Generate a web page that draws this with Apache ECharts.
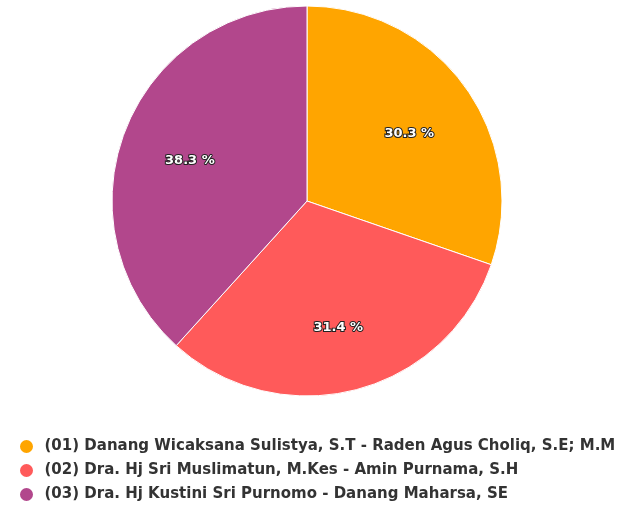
<!DOCTYPE html>
<html>
<head>
<meta charset="utf-8">
<script src="https://cdn.jsdelivr.net/npm/echarts@6/dist/echarts.min.js"></script>
<style>
  html, body { margin: 0; padding: 0; background: #fff; }
  #chart { width: 618px; height: 508px; }
</style>
</head>
<body>
<div id="chart"></div>
<script>
// Candidate pairs and their vote share (%)
const candidates = [
  '(01) Danang Wicaksana Sulistya, S.T - Raden Agus Choliq, S.E; M.M',
  '(02) Dra. Hj Sri Muslimatun, M.Kes - Amin Purnama, S.H',
  '(03) Dra. Hj Kustini Sri Purnomo - Danang Maharsa, SE'
];
const shares = [30.3, 31.4, 38.3];
const colors = ['#FFA500', '#FF5A5A', '#B2478C'];

const pieData = candidates.map((name, i) => ({
  name: name,
  value: shares[i],
  itemStyle: { color: colors[i] }
}));

const center = [307, 201];
const R = 195;

const chart = echarts.init(document.getElementById('chart'), null, { renderer: 'canvas' });
chart.setOption({
  animation: false,
  backgroundColor: '#ffffff',
  legend: {
    orient: 'vertical',
    left: 13,
    top: 433,
    height: 90,
    itemGap: 7,
    icon: 'circle',
    itemWidth: 22,
    itemHeight: 15,
    textStyle: {
      fontFamily: 'DejaVu Sans',
      fontWeight: 'bold',
      fontSize: 15,
      color: '#333333',
      padding: [0, 0, 0, 2]
    },
    data: candidates
  },
  series: [
    {
      type: 'pie',
      center: center,
      radius: [0, R],
      startAngle: 90,
      clockwise: true,
      silent: true,
      label: { show: false },
      labelLine: { show: false },
      itemStyle: { borderColor: '#ffffff', borderWidth: 1 },
      data: pieData
    },
    {
      // label ring: places the percentage text at ~0.62 of the radius
      type: 'pie',
      center: center,
      radius: [50, R],
      startAngle: 90,
      clockwise: true,
      silent: true,
      legendHoverLink: false,
      itemStyle: { color: 'rgba(0,0,0,0)', borderWidth: 0 },
      label: {
        show: true,
        position: 'inside',
        offset: [0, 5],
        formatter: p => p.value.toFixed(1) + ' %',
        fontFamily: 'DejaVu Sans',
        fontWeight: 'bold',
        fontSize: 13,
        color: '#ffffff',
        textBorderColor: '#222222',
        textBorderWidth: 2
      },
      labelLine: { show: false },
      data: shares.map((v, i) => ({ name: candidates[i] + ' ', value: v }))
    }
  ]
});
</script>
</body>
</html>
